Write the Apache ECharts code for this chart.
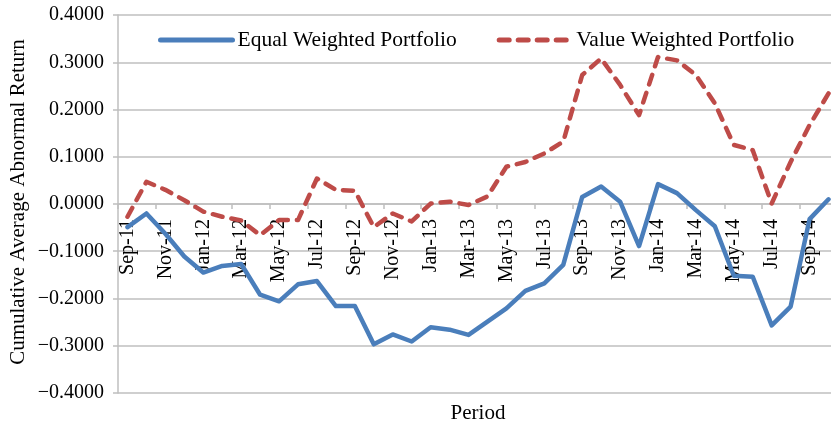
<!DOCTYPE html>
<html>
<head>
<meta charset="utf-8">
<script src="https://cdn.jsdelivr.net/npm/echarts@6/dist/echarts.min.js"></script>
<style>html,body{margin:0;padding:0;background:#fff}#c{width:831px;height:426px}</style>
</head>
<body>
<div id="c"></div>
<script>
const months = ['Sep-11','Oct-11','Nov-11','Dec-11','Jan-12','Feb-12','Mar-12','Apr-12','May-12','Jun-12','Jul-12','Aug-12',
  'Sep-12','Oct-12','Nov-12','Dec-12','Jan-13','Feb-13','Mar-13','Apr-13','May-13','Jun-13','Jul-13','Aug-13',
  'Sep-13','Oct-13','Nov-13','Dec-13','Jan-14','Feb-14','Mar-14','Apr-14','May-14','Jun-14','Jul-14','Aug-14',
  'Sep-14','Oct-14'];
const equalWeighted = [-0.049,-0.020,-0.063,-0.111,-0.145,-0.131,-0.127,-0.192,-0.206,-0.170,-0.163,-0.216,
  -0.216,-0.297,-0.276,-0.291,-0.261,-0.266,-0.277,-0.249,-0.221,-0.184,-0.168,-0.129,
  0.015,0.037,0.005,-0.089,0.042,0.023,-0.013,-0.047,-0.152,-0.154,-0.257,-0.217,
  -0.032,0.010];
const valueWeighted = [-0.027,0.047,0.030,0.008,-0.016,-0.027,-0.035,-0.066,-0.034,-0.034,0.054,0.030,
  0.028,-0.049,-0.020,-0.037,0.001,0.005,-0.002,0.016,0.079,0.089,0.107,0.132,
  0.273,0.308,0.252,0.188,0.311,0.304,0.273,0.213,0.125,0.114,0.001,0.089,
  0.167,0.234];
const seriesNames = ['Equal Weighted Portfolio','Value Weighted Portfolio'];
const yAxisTitle = 'Cumulative Average Abnormal Return';
const xAxisTitle = 'Period';
const yMin = -0.4, yMax = 0.4, yStep = 0.1;

const font = '"Liberation Serif", "Times New Roman", serif';
const gridColor = '#bfbfbf';
const blue = '#4a7ebb', red = '#be4b48';
const gridTop = 15, gridBottom = 33, H = 426;
const plotH = H - gridTop - gridBottom;
// x axis sits on the zero line of the value axis
const zeroOffset = -plotH * (0 - yMin) / (yMax - yMin);

const chart = echarts.init(document.getElementById('c'), null, {renderer:'canvas'});
chart.setOption({
  animation: false,
  backgroundColor: '#fff',
  textStyle: {fontFamily: font, color: '#000'},
  grid: {left: 118, right: -7, top: gridTop, bottom: gridBottom, containLabel: false, outerBoundsMode: 'none'},
  legend: {
    left: 153, top: 24, itemWidth: 72, itemHeight: 12, itemGap: 40,
    itemStyle: {color: 'rgba(0,0,0,0)', borderColor: 'rgba(0,0,0,0)', borderWidth: 0},
    lineStyle: {width: 5, cap: 'round'},
    textStyle: {fontFamily: font, fontSize: 21.5, color: '#000'},
    data: seriesNames
  },
  xAxis: {
    type: 'category', data: months, boundaryGap: true, position: 'bottom', offset: zeroOffset,
    axisLine: {onZero: false, lineStyle: {color: gridColor, width: 1.5}},
    axisTick: {show: true, interval: 1, length: 5, lineStyle: {color: gridColor, width: 1.5}},
    axisLabel: {interval: 1, rotate: 90, margin: 15, fontFamily: font, fontSize: 20, color: '#000'},
    splitLine: {show: false}
  },
  yAxis: {
    type: 'value', min: yMin, max: yMax, interval: yStep,
    axisLine: {show: true, onZero: false, lineStyle: {color: gridColor, width: 1.5}},
    axisTick: {show: true, length: 5, lineStyle: {color: gridColor, width: 1.5}},
    axisLabel: {margin: 14, fontFamily: font, fontSize: 20, color: '#000',
      formatter: v => { const r = Math.round(v*10000)/10000; return (r < 0 ? '\u2212' : '') + Math.abs(r).toFixed(4); }},
    splitLine: {show: true, lineStyle: {color: gridColor, width: 1.5}}
  },
  graphic: [
    {type: 'text', x: 478, y: 413, style: {text: xAxisTitle, font: '21px ' + font, fill: '#000', textAlign: 'center', textVerticalAlign: 'middle'}},
    {type: 'text', x: 18, y: 202, rotation: Math.PI/2, style: {text: yAxisTitle, font: '21px ' + font, fill: '#000', textAlign: 'center', textVerticalAlign: 'middle'}}
  ],
  series: [
    {name: seriesNames[0], type: 'line', data: equalWeighted, symbol: 'none', smooth: false,
      itemStyle: {color: blue}, lineStyle: {color: blue, width: 4.5, cap: 'round', join: 'round'}},
    {name: seriesNames[1], type: 'line', data: valueWeighted, symbol: 'none', smooth: false,
      itemStyle: {color: red}, lineStyle: {color: red, width: 4.5, type: [10, 9], cap: 'round', join: 'round'}}
  ]
});
</script>
</body>
</html>
